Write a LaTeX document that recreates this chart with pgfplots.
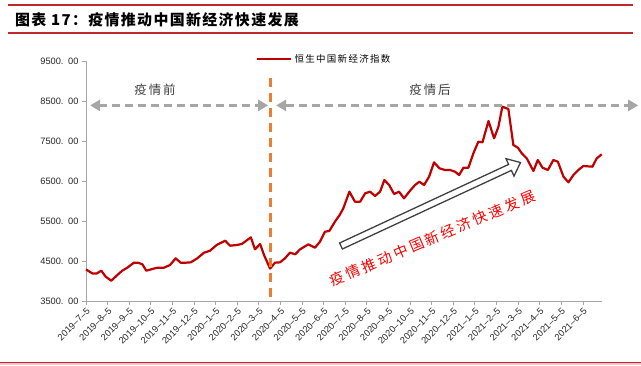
\documentclass[border=0pt]{standalone}
\usepackage{fontspec}
\setmainfont{Liberation Sans}
\newfontfamily\cjk{Noto Sans CJK SC}
\usepackage{pgfplots}
\pgfplotsset{compat=1.18}
\usetikzlibrary{arrows.meta}
\definecolor{linered}{HTML}{C00000}
\definecolor{orng}{HTML}{ED7D31}
\definecolor{gdash}{HTML}{A6A6A6}
\definecolor{axgray}{HTML}{A6A6A6}
\definecolor{titlered}{HTML}{C0282D}
\definecolor{arrgray}{HTML}{404040}

\pgfplotstableread{
x v
0.00 4290
0.29 4190
0.50 4190
0.71 4258
0.91 4108
1.17 4008
1.45 4150
1.68 4258
1.91 4333
2.22 4458
2.41 4458
2.61 4417
2.79 4258
3.07 4300
3.30 4333
3.61 4333
3.89 4400
4.15 4567
4.38 4458
4.62 4458
4.85 4467
5.15 4567
5.46 4708
5.74 4758
6.05 4900
6.44 5008
6.67 4883
6.98 4900
7.21 4925
7.63 5092
7.82 4792
8.06 4925
8.24 4650
8.52 4310
8.75 4458
8.98 4467
9.21 4567
9.44 4708
9.68 4667
9.91 4792
10.29 4917
10.60 4833
10.83 4983
11.06 5233
11.26 5250
11.53 5490
11.74 5650
11.91 5817
12.19 6233
12.45 5983
12.69 5983
12.92 6192
13.15 6233
13.38 6125
13.61 6233
13.81 6525
14.03 6400
14.26 6175
14.49 6233
14.72 6067
15.00 6258
15.23 6400
15.43 6483
15.65 6400
15.88 6608
16.11 6967
16.36 6817
16.62 6775
16.85 6775
17.08 6733
17.27 6650
17.47 6833
17.70 6833
17.93 7192
18.16 7483
18.35 7467
18.63 8000
18.89 7567
19.09 7858
19.27 8358
19.55 8300
19.78 7400
19.99 7333
20.17 7192
20.40 7067
20.71 6750
20.91 7025
21.13 6833
21.38 6775
21.63 7025
21.84 6983
22.10 6608
22.33 6467
22.56 6650
22.79 6775
23.02 6875
23.44 6858
23.64 7067
23.87 7167
}\hsdata

\begin{document}
\begin{tikzpicture}[x=1bp,y=1bp]
\useasboundingbox (0,0) rectangle (641,365);
\fill[white] (0,0) rectangle (641,365);
\draw[titlered, line width=2bp] (8,359.5) -- (633,359.5);
\draw[titlered, line width=1.5bp] (8,332) -- (633,332);
\fill[titlered!25] (0,0) rectangle (641,2);
\draw[titlered, line width=1.2bp] (0,2.5) -- (641,2.5);
\node[anchor=west, inner sep=0pt] at (15,345)
  {\fontsize{15}{18}\selectfont\cjk\bfseries\addfontfeatures{LetterSpace=9}图表 17：疫情推动中国新经济快速发展};

\begin{axis}[
  at={(86bp,64bp)}, anchor=south west,
  scale only axis, width=515.7bp, height=240bp,
  xmin=0, xmax=23.87, ymin=3500, ymax=9500,
  axis x line=bottom, axis y line=left,
  axis line style={axgray, line width=0.8bp, -},
  tick align=outside, major tick length=4bp,
  tick style={axgray, line width=0.8bp},
  xtick={0,...,23},
  xticklabels={2019--7--5,2019--8--5,2019--9--5,2019--10--5,2019--11--5,2019--12--5,2020--1--5,2020--2--5,2020--3--5,2020--4--5,2020--5--5,2020--6--5,2020--7--5,2020--8--5,2020--9--5,2020--10--5,2020--11--5,2020--12--5,2021--1--5,2021--2--5,2021--3--5,2021--4--5,2021--5--5,2021--6--5},
  ytick={3500,4500,5500,6500,7500,8500,9500},
  yticklabels={3500.\enspace 00,4500.\enspace 00,5500.\enspace 00,6500.\enspace 00,7500.\enspace 00,8500.\enspace 00,9500.\enspace 00},
  x tick label style={rotate=45, anchor=north east, font=\fontsize{9.3}{10}\selectfont, text=black!85, inner sep=1.5bp},
  y tick label style={font=\fontsize{9.3}{10}\selectfont, text=black!85},
  clip=false,
  legend style={at={(0.33,1.008)}, anchor=west, draw=none, fill=none,
    font=\fontsize{9.5}{11}\selectfont\cjk\addfontfeatures{LetterSpace=14}, inner sep=0pt},
  legend cell align=left,
  legend image code/.code={\draw[#1] (0bp,0bp) -- (34bp,0bp);},
]
\addplot[linered, line width=2.2bp, line join=round] table[x=x,y=v] {\hsdata};
\addlegendentry{恒生中国新经济指数}
\draw[orng, line width=3bp, dash pattern=on 9bp off 6bp] (axis cs:8.56,9075) -- (axis cs:8.56,3575);
\draw[gdash, line width=2.5bp, dash pattern=on 8bp off 5bp, {Triangle[length=10bp,width=11bp]}-{Triangle[length=10bp,width=11bp]}] (axis cs:0.19,8390) -- (axis cs:8.43,8390);
\draw[gdash, line width=2.5bp, dash pattern=on 8bp off 5bp, {Triangle[length=10bp,width=11bp]}-{Triangle[length=10bp,width=11bp]}] (axis cs:8.80,8390) -- (axis cs:25.56,8390);
\end{axis}

\node[text=black!75, font=\fontsize{12.5}{14}\selectfont\cjk\addfontfeatures{LetterSpace=15}] at (155,275) {疫情前};
\node[text=black!75, font=\fontsize{12.5}{14}\selectfont\cjk\addfontfeatures{LetterSpace=15}] at (430,275) {疫情后};

\draw[arrgray, line width=1.3bp, fill=white, line join=miter]
  (339.6,122.0) -- (508.6,200.6) -- (506.0,206.3) -- (520.5,202.5) -- (514.0,188.9) -- (511.4,194.6) -- (342.4,116.0) -- cycle;

\node[text=red, rotate=22.9, font=\fontsize{14.5}{16}\selectfont\cjk\addfontfeatures{LetterSpace=20}] at (432.5,126.7) {疫情推动中国新经济快速发展};
\end{tikzpicture}
\end{document}
